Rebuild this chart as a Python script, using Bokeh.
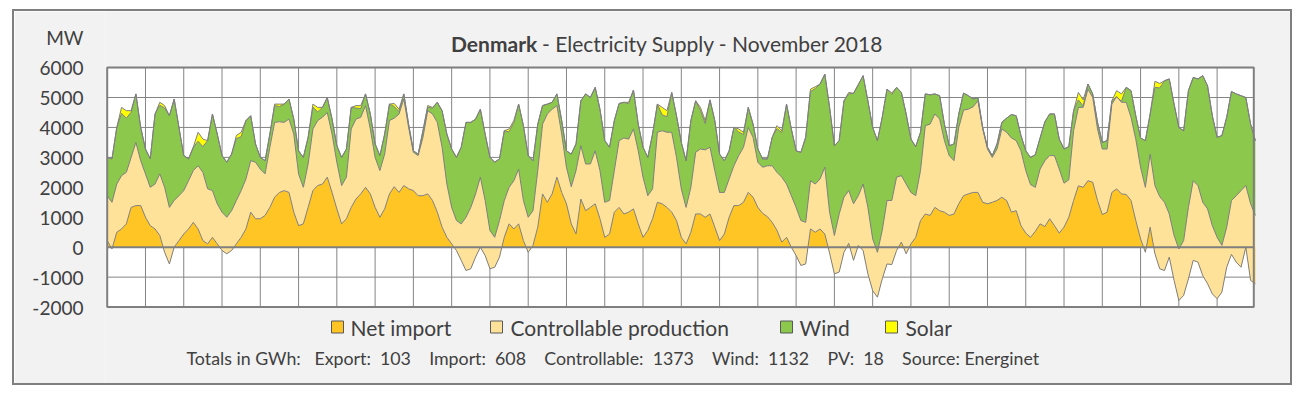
import numpy as np
from bokeh.plotting import figure
from bokeh.models import FixedTicker
from bokeh.core.properties import value
from bokeh.embed import file_html
from bokeh.resources import INLINE

# ---------------- data (MW, one value every 3 hours, November 2018) ----------------
STEP_HOURS = 3

net_import = [
    220, -60, 500, 610, 780, 1330, 1390, 1390,
    1000, 720, 610, 390, -170, -560, 0, 220,
    440, 610, 830, 610, 220, 110, 330, 110,
    -110, -220, -110, 110, 330, 610, 1170, 950,
    950, 1060, 1330, 1670, 1830, 1890, 1830, 1170,
    720, 780, 1330, 1890, 2060, 2110, 2340, 1830,
    1280, 780, 950, 1330, 1610, 1780, 2000, 1780,
    1330, 1000, 1280, 1780, 2020, 1830, 2060, 1950,
    1890, 1720, 1720, 1780, 1560, 1170, 670, 330,
    110, -110, -440, -780, -720, -330, 0, -280,
    -720, -670, -330, 330, 780, 610, 780, 220,
    -170, 60, 670, 1780, 1500, 1780, 2340, 1830,
    1450, 780, 440, 1610, 1220, 1330, 1450, 950,
    330, 440, 1170, 1330, 1110, 1170, 1280, 780,
    330, 560, 950, 1500, 1450, 1330, 1170, 890,
    330, 110, 500, 1110, 1110, 1000, 1110, 670,
    220, 440, 1000, 1390, 1390, 1500, 1830, 1670,
    1330, 1130, 1020, 830, 560, 170, 330, 0,
    -280, -610, -560, 610, 500, 610, 440, -200,
    -890, -830, -170, 130, -440, 60, -110, -890,
    -1450, -1670, -1060, -560, -580, -110, 170, -220,
    110, 330, 890, 1110, 1060, 1330, 1220, 1170,
    1060, 1110, 1450, 1720, 1780, 1830, 1830, 1500,
    1450, 1500, 1560, 1670, 1560, 1170, 1220, 720,
    470, 330, 530, 780, 690, 950, 720, 470,
    670, 1000, 1560, 2050, 2000, 2220, 2170, 1560,
    1090, 1170, 1830, 1950, 1780, 1760, 1560, 890,
    280, -170, 670, -220, -720, -780, -330, -1110,
    -1780, -1610, -1060, -440, -500, -950, -1220, -1560,
    -1720, -1500, -670, -240, -500, -670, 0, -1110,
    -1220,
]

controllable = [
    1500, 1560, 1610, 1780, 1720, 1670, 2110, 1500,
    1450, 1280, 1500, 2060, 2170, 1890, 1560, 1500,
    1450, 1610, 1730, 2110, 2280, 1840, 1560, 1340,
    1280, 1220, 1330, 1450, 1560, 1670, 1720, 1890,
    1660, 1390, 2010, 2500, 2360, 2280, 2450, 2610,
    1730, 1220, 1450, 2060, 2170, 2230, 2160, 1950,
    1560, 1280, 1390, 2620, 2670, 2560, 2730, 2170,
    1670, 1560, 1830, 2450, 2290, 2620, 2890, 2050,
    1280, 1340, 1950, 2780, 2890, 3000, 2670, 1780,
    1220, 1000, 1220, 1780, 2050, 2110, 2340, 1840,
    1280, 1000, 1220, 1230, 1220, 1610, 1830, 1340,
    1170, 1160, 1890, 2330, 2950, 2830, 2390, 1950,
    1220, 1240, 2120, 1780, 1560, 1450, 1770, 1610,
    1170, 1120, 1390, 2230, 2540, 2440, 2670, 2440,
    2010, 1160, 1000, 2340, 2440, 2510, 2670, 2110,
    1620, 1220, 1500, 2060, 2170, 2250, 2230, 1890,
    1610, 1390, 1280, 1330, 1670, 1840, 2170, 2000,
    1510, 1540, 1700, 1890, 1940, 2170, 1780, 1720,
    1610, 1500, 1390, 1610, 1610, 1670, 2230, 1370,
    1280, 1940, 1840, 1760, 1890, 1660, 2220, 2220,
    1730, 1500, 1620, 2120, 2140, 2450, 2220, 2330,
    1720, 1390, 1670, 2950, 3050, 3120, 3060, 2390,
    2000, 1780, 2550, 2860, 2830, 2860, 3060, 2450,
    1830, 1500, 1720, 2280, 2280, 2480, 2340, 2500,
    2090, 1760, 1470, 1830, 2200, 2110, 2340, 2140,
    1470, 1250, 2330, 2620, 2670, 3060, 2830, 2390,
    2190, 2110, 2950, 3080, 3060, 3080, 2780, 2720,
    2390, 2170, 2440, 2280, 2410, 2280, 1440, 1500,
    1720, 1830, 2390, 2660, 2560, 2450, 2500, 2280,
    2050, 1560, 1340, 1800, 2220, 2560, 2060, 2560,
    2280,
]

wind = [
    1280, 1450, 1890, 2080, 1810, 1510, 1620, 1110,
    830, 950, 2340, 2290, 2650, 3060, 3390, 2280,
    1170, 730, 780, 820, 860, 1610, 2560, 2330,
    1890, 1840, 1890, 2070, 1800, 1950, 1500, 610,
    390, 440, 440, 560, 510, 610, 670, 500,
    770, 1000, 890, 730, 290, 330, 500, 500,
    550, 940, 940, 720, 370, 290, 390, 500,
    450, 500, 670, 550, 390, 80, 170, 110,
    50, 50, 220, 120, 190, 670, 1220, 1670,
    1950, 2110, 2560, 3170, 2840, 2500, 2270, 2220,
    2440, 2510, 2060, 2330, 1850, 1950, 2170, 2500,
    2060, 1670, 1550, 620, 330, 230, 390, 450,
    550, 1090, 890, 1500, 2340, 2220, 2120, 2050,
    2060, 1780, 1670, 1240, 1190, 1180, 1300, 890,
    1000, 1280, 1830, 940, 530, 520, 1330, 1390,
    1550, 1560, 2230, 1720, 1290, 880, 1580, 1670,
    1280, 1060, 940, 1280, 790, 420, 670, 440,
    440, 280, 230, 950, 1460, 1490, 2670, 2230,
    1890, 2280, 2840, 2980, 3190, 3170, 3110, 3500,
    3000, 2450, 3220, 3230, 3690, 3710, 3620, 3560,
    3720, 3730, 3780, 3720, 3540, 3000, 2780, 2340,
    1780, 1640, 1280, 1060, 980, 670, 780, 550,
    330, 560, 450, 570, 450, 260, 110, 50,
    60, 60, 170, 220, 470, 780, 830, 510,
    660, 910, 1090, 1040, 1300, 1390, 1390, 1000,
    1140, 1110, 670, 250, 50, 170, 120, 220,
    220, 280, 110, 0, 30, 500, 890, 780,
    980, 1560, 1340, 3280, 3630, 4060, 4510, 4390,
    4060, 3670, 3900, 3450, 3560, 4230, 4110, 3670,
    3340, 3670, 3670, 3640, 3400, 3170, 2940, 2660,
    2500,
]

solar = [
    0, 0, 0, 200, 250, 50, 0, 0,
    0, 0, 0, 100, 80, 0, 0, 0,
    0, 0, 0, 300, 250, 0, 0, 0,
    0, 0, 0, 100, 150, 0, 0, 0,
    0, 0, 0, 50, 80, 0, 0, 0,
    0, 0, 0, 100, 150, 0, 0, 0,
    0, 0, 0, 0, 80, 100, 0, 0,
    0, 0, 0, 0, 100, 80, 0, 0,
    0, 0, 0, 50, 30, 0, 0, 0,
    0, 0, 0, 0, 0, 0, 0, 0,
    0, 0, 0, 0, 100, 60, 0, 0,
    0, 0, 0, 0, 0, 0, 0, 0,
    0, 0, 0, 0, 0, 0, 0, 0,
    0, 0, 0, 0, 0, 50, 0, 0,
    0, 0, 0, 0, 250, 200, 0, 0,
    0, 0, 0, 0, 100, 100, 0, 0,
    0, 0, 0, 0, 100, 80, 0, 0,
    0, 0, 0, 0, 100, 60, 0, 0,
    0, 0, 0, 80, 60, 0, 0, 0,
    0, 0, 0, 50, 0, 0, 0, 0,
    0, 0, 0, 0, 50, 0, 0, 0,
    0, 0, 0, 0, 0, 0, 0, 0,
    0, 0, 0, 0, 0, 0, 0, 0,
    0, 0, 0, 0, 0, 0, 0, 0,
    0, 0, 0, 0, 0, 0, 0, 0,
    0, 0, 0, 250, 200, 0, 0, 0,
    0, 0, 0, 200, 250, 0, 0, 0,
    0, 0, 0, 200, 150, 0, 0, 0,
    0, 0, 0, 0, 0, 0, 0, 0,
    0, 0, 0, 0, 0, 0, 0, 0,
    0,
]

y_ticks = [-2000, -1000, 0, 1000, 2000, 3000, 4000, 5000, 6000]
day_lines = list(range(24, 720, 24))
series_names = ["Net import", "Controllable production", "Wind", "Solar"]
title_bold = "Denmark"
title_rest = "- Electricity Supply - November 2018"
y_unit = "MW"
totals_labels = ["Export:", "Import:", "Controllable:", "Wind:", "PV:"]
totals_values = [103, 608, 1373, 1132, 18]
source_text = "Source: Energinet"

# ---------------- styles / layout ----------------
FONT = "Lato"
TXT = "#404040"
GREY = "#7F7F7F"
COLORS = ["#FFC524", "#FFE299", "#8CC84B", "#FFFF00"]
X_MIN, X_MAX = 0, 719            # hours shown in the plot area
Y_MIN, Y_MAX = -2000, 6000

NB = "\u00a0"                     # non-collapsing spaces keep the footer's wide gaps
GAP, SEP = " " + NB * 3, " " + NB
footer = ("Totals in GWh:" + " " + NB * 2
          + GAP.join(f"{l}{SEP}{v}" for l, v in zip(totals_labels, totals_values))
          + GAP + source_text)

W, H = 1280, 376                  # canvas size (page origin of canvas: 14, 11)
OX, OY = 14, 11
LEFT = 91                         # frame starts at page x = 105
PX_PER_HOUR = (1253.3 - 106.7) / (X_MAX - X_MIN)
PX_PER_MW = (306.6 - 67.1) / (Y_MAX - Y_MIN)
def hx(px):
    return (px - 106.7) / PX_PER_HOUR
def my(py):
    return (246.7 - py) / PX_PER_MW

hours = [i * STEP_HOURS for i in range(len(net_import))]
net = np.array(net_import, dtype=float)
c1 = net + np.array(controllable, dtype=float)
c2 = c1 + np.array(wind, dtype=float)
c3 = c2 + np.array(solar, dtype=float)

p = figure(width=W, height=H, x_range=(hx(OX + LEFT), hx(OX + W)), y_range=(my(OY + H), my(OY)),
           output_backend="svg", toolbar_location=None, title=None, x_axis_location=None,
           min_border_left=LEFT, min_border_right=0, min_border_top=0, min_border_bottom=0)
p.styles = {"border": "2px solid #7F7F7F", "margin-left": "12px", "margin-top": "9px"}
p.border_fill_color = "#F2F2F2"
p.background_fill_color = "#F2F2F2"
p.outline_line_color = None
p.grid.visible = False

ax = p.yaxis[0]
ax.ticker = FixedTicker(ticks=y_ticks + [7000])
overrides = {t: str(t) for t in y_ticks}
overrides[7000] = y_unit
ax.major_label_overrides = overrides
ax.axis_line_color = None
ax.major_tick_line_color = None
ax.minor_tick_line_color = None
ax.major_tick_out = 0
ax.major_tick_in = 0
ax.major_label_standoff = 22
ax.major_label_text_font = FONT
ax.major_label_text_font_size = "19px"
ax.major_label_text_color = TXT

# plot area and grid
p.quad(left=X_MIN, right=X_MAX, bottom=Y_MIN, top=Y_MAX, fill_color="white", line_color=None)
p.segment(x0=day_lines, y0=Y_MIN, x1=day_lines, y1=Y_MAX, line_color="#858585", line_width=1)
p.segment(x0=X_MIN, y0=y_ticks, x1=X_MAX, y1=y_ticks, line_color="#858585", line_width=1)

# stacked areas (same drawing order as the original stacked area chart)
p.varea(x=hours, y1=np.zeros(len(hours)), y2=net, fill_color=COLORS[0])
p.varea(x=hours, y1=net, y2=c1, fill_color=COLORS[1])
p.varea(x=hours, y1=c1, y2=c2, fill_color=COLORS[2])
p.varea(x=hours, y1=c2, y2=c3, fill_color=COLORS[3])
for yy in (net, c1, c2, c3):
    p.line(x=hours, y=yy, line_color=GREY, line_width=1)

# zero line and plot-area border
p.segment(x0=X_MIN, y0=0, x1=X_MAX, y1=0, line_color=GREY, line_width=2)
p.quad(left=X_MIN, right=X_MAX, bottom=Y_MIN, top=Y_MAX, fill_color=None, line_color=GREY, line_width=2)

# title
p.text(x=[hx(536.7)], y=[my(43.3)], text=[title_bold], text_align="right", text_baseline="alphabetic",
       text_font=value(FONT), text_font_style="bold", text_font_size=value("21px"), text_color=TXT)
p.text(x=[hx(541.5)], y=[my(43.3)], text=[title_rest], text_align="left", text_baseline="alphabetic",
       text_font=value(FONT), text_font_size=value("21px"), text_color=TXT)

# legend
sq_px = [337, 496, 786, 891]
lab_px = [350, 510, 799, 905]
LEG_Y = 326.5
p.scatter(x=[hx(v) for v in sq_px], y=[my(LEG_Y)] * 4, marker="square", size=12,
          fill_color=COLORS, line_color="#595959", line_width=1)
p.text(x=[hx(v) for v in lab_px], y=[my(LEG_Y)] * 4, text=series_names, text_align="left",
       text_baseline="middle", text_font=value(FONT), text_font_size=value("21px"), text_color=TXT)

# footer
p.text(x=[hx(186)], y=[my(357)], text=[footer], text_align="left", text_baseline="middle",
       text_font=value(FONT), text_font_size=value("17.8px"), text_color=TXT)

open("out.html", "w").write(file_html(p, INLINE))
